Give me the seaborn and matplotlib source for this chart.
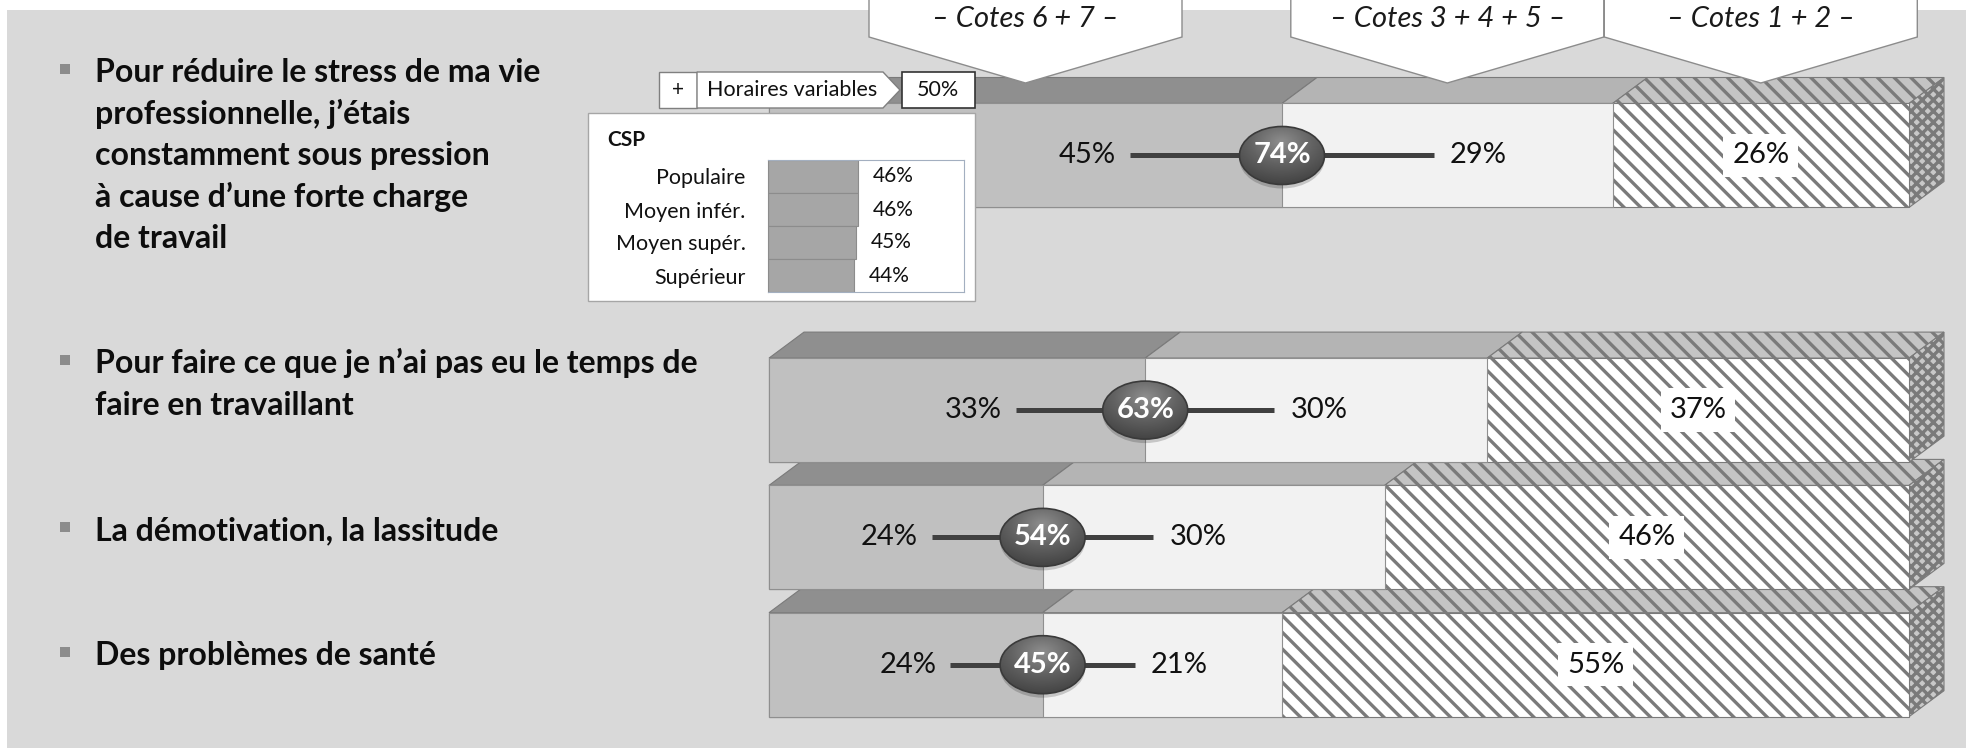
import numpy as np
import pandas as pd
import matplotlib
matplotlib.use("Agg")
import matplotlib.pyplot as plt
from matplotlib.patches import Rectangle, Polygon, Ellipse
from matplotlib.colors import LinearSegmentedColormap
import seaborn as sns

# ---------------------------------------------------------------- data
items = [
    "Pour réduire le stress de ma vie\nprofessionnelle, j’étais\nconstamment sous pression\nà cause d’une forte charge\nde travail",
    "Pour faire ce que je n’ai pas eu le temps de\nfaire en travaillant",
    "La démotivation, la lassitude",
    "Des problèmes de santé",
]
cotes_67 = [45, 33, 24, 24]     # high scores (6 + 7)
cotes_345 = [29, 30, 30, 21]    # middle scores (3 + 4 + 5)
cotes_12 = [26, 37, 46, 55]     # low scores (1 + 2)
group_labels = ["– Cotes 6 + 7 –", "– Cotes 3 + 4 + 5 –", "– Cotes 1 + 2 –"]

filter_label = "Horaires variables"
filter_value = 50
csp_title = "CSP"
csp_labels = ["Populaire", "Moyen infér.", "Moyen supér.", "Supérieur"]
csp_values = [46, 46, 45, 44]

# ---------------------------------------------------------------- layout
W, H, DPI = 1966, 748, 100
row_pos = [0, 2, 3, 4]          # vertical slots of the four bars
X0_PX, PX_X = 769, 11.4         # bar origin and pixels per percent
Y0_PX, PX_Y = 155.5, 127.3      # first row centre and pixels per slot


def ux(px):
    return px / PX_X


def uy(px):
    return px / PX_Y


def yd(py):
    return (py - Y0_PX) / PX_Y


BAR_H = uy(104)
DX, DY = ux(35), uy(26)
HATCH = "\\\\"
zbase = [40, 32, 24, 16]

sns.set_style("white")
plt.rcParams["font.family"] = ["Lato", "DejaVu Sans"]
plt.rcParams["hatch.linewidth"] = 2.4

fig = plt.figure(figsize=(W / DPI, H / DPI), dpi=DPI, facecolor="white")
fig.add_artist(Rectangle((7 / W, 0), 1, (H - 10) / H, transform=fig.transFigure,
                         fc="#d9d9d9", ec="none", zorder=-5))

ax = fig.add_axes([0, 0, 1, 1])
ax.set_facecolor("none")

df = pd.DataFrame({"pos": row_pos, "c67": cotes_67, "c345": cotes_345, "c12": cotes_12})
df["cum2"] = df["c67"] + df["c345"]
df["cum3"] = df["cum2"] + df["c12"]

# stacked front faces: longest cumulative layer first
layers = [
    ("cum3", "#ffffff", HATCH, "#7a7a7a"),
    ("cum2", "#f2f2f2", None, "#8f8f8f"),
    ("c67", "#c0c0c0", None, "#8f8f8f"),
]
pos_arr = np.array(row_pos, dtype=float)
for k, (col, fc, hatch, ec) in enumerate(layers):
    n_before = len(ax.patches)
    sns.barplot(data=df, x=col, y="pos", orient="h", native_scale=True,
                width=BAR_H, color=fc, saturation=1, errorbar=None, ax=ax)
    for p in ax.patches[n_before:]:
        yc = p.get_y() + p.get_height() / 2
        r = int(np.argmin(np.abs(pos_arr - yc)))
        p.set_facecolor(fc)
        p.set_edgecolor(ec)
        p.set_linewidth(0.8)
        if hatch:
            p.set_hatch(hatch)
        p.set_zorder(zbase[r] + 2 + k)

# 3D top and side faces
top_fc = ["#8f8f8f", "#b4b4b4", "#c4c4c4"]
top_hatch = [None, None, HATCH]
for r, pos in enumerate(row_pos):
    yt, yb = pos - BAR_H / 2, pos + BAR_H / 2
    total = df["cum3"][r]
    bounds = [0, df["c67"][r], df["cum2"][r], total]
    for s in range(3):
        x0, x1 = bounds[s], bounds[s + 1]
        ax.add_patch(Polygon([(x0, yt), (x1, yt), (x1 + DX, yt - DY), (x0 + DX, yt - DY)],
                             closed=True, fc=top_fc[s], ec="#7a7a7a", lw=0.8,
                             hatch=top_hatch[s], zorder=zbase[r] + 1))
    ax.add_patch(Polygon([(total, yt), (total + DX, yt - DY), (total + DX, yb - DY), (total, yb)],
                         closed=True, fc="#c8c8c8", ec="#7a7a7a", lw=0.8, hatch="xxx",
                         zorder=zbase[r] + 1))

# dumbbell lines, bubbles and value labels
bub_cmap = LinearSegmentedColormap.from_list("bub", ["#8e8e8e", "#626262", "#424242"])
BW, BH = ux(85), uy(58)
for r, pos in enumerate(row_pos):
    xc = cotes_67[r]
    tot = cotes_67[r] + cotes_345[r]
    arm = 0.18 * tot
    ax.plot([xc - arm, xc + arm], [pos, pos], color="#404040", lw=3.6,
            solid_capstyle="butt", zorder=100)
    ax.text(xc - arm - ux(14), pos, f"{cotes_67[r]}%", ha="right", va="center",
            fontsize=21, color="#111111", zorder=101)
    ax.text(xc + arm + ux(16), pos, f"{cotes_345[r]}%", ha="left", va="center",
            fontsize=21, color="#111111", zorder=101)

    ax.add_patch(Ellipse((xc, pos + uy(4)), BW, BH, fc="#000000", alpha=0.18,
                         ec="none", zorder=101))
    ell = Ellipse((xc, pos), BW, BH, fc="#5a5a5a", ec="none", zorder=102)
    ax.add_patch(ell)
    gy, gx = np.mgrid[-1:1:60j, -1:1:90j]
    rr = np.sqrt(gx ** 2 + (gy + 0.45) ** 2)
    img = ax.imshow(rr, extent=(xc - BW / 2, xc + BW / 2, pos + BH / 2, pos - BH / 2),
                    origin="upper", cmap=bub_cmap, vmin=0, vmax=1.5, aspect="auto",
                    interpolation="bilinear", zorder=103)
    img.set_clip_path(ell)
    ax.add_patch(Ellipse((xc, pos), BW, BH, fc="none", ec="#3a3a3a", lw=1.2, zorder=104))
    ax.text(xc, pos, f"{tot}%", ha="center", va="center", fontsize=21,
            fontweight="bold", color="white", zorder=106)

    ax.text(100 - cotes_12[r] / 2, pos, f"{cotes_12[r]}%", ha="center", va="center",
            fontsize=21, color="#111111", zorder=101,
            bbox=dict(boxstyle="square,pad=0.3", fc="white", ec="none"))

# group headers pointing at the segments of the first bar
centers = [cotes_67[0] / 2, cotes_67[0] + cotes_345[0] / 2, 100 - cotes_12[0] / 2]
half = ux(313) / 2
for c, lab in zip(centers, group_labels):
    verts = [(c - half, yd(-6)), (c + half, yd(-6)), (c + half, yd(37)),
             (c, yd(83)), (c - half, yd(37))]
    ax.add_patch(Polygon(verts, closed=True, fc="white", ec="#8c8c8c", lw=1.0, zorder=60))
    ax.text(c, yd(19), lab, ha="center", va="center", fontsize=21, style="italic",
            color="#1a1a1a", zorder=61)

ax.set_xlim(-X0_PX / PX_X, (W - X0_PX) / PX_X)
ax.set_ylim(yd(H), yd(0))
ax.set_axis_off()

# ---------------------------------------------------------------- overlay (pixel space)
ov = fig.add_axes([0, 0, 1, 1], zorder=5)
ov.set_xlim(0, W)
ov.set_ylim(H, 0)
ov.set_facecolor("none")
ov.set_axis_off()

baselines = [82, 373, 540, 665]
for text, base in zip(items, baselines):
    ov.add_patch(Rectangle((60, base - 18), 10, 10, fc="#8c8c8c", ec="none"))
    for i, line in enumerate(text.split("\n")):
        ov.text(95, base + i * 41.5, line, ha="left", va="baseline", fontsize=23,
                fontweight="bold", color="#0d0d0d")

# filter tag
ov.add_patch(Rectangle((659, 72), 38, 36, fc="white", ec="#7f7f7f", lw=1))
ov.text(678, 90, "+", ha="center", va="center", fontsize=15, color="#111111")
ov.add_patch(Polygon([(697, 72), (883, 72), (900, 90), (883, 108), (697, 108)],
                     closed=True, fc="white", ec="#7f7f7f", lw=1))
ov.text(792, 90, filter_label, ha="center", va="center", fontsize=15.5, color="#111111")
ov.add_patch(Rectangle((902, 72), 73, 36, fc="white", ec="#333333", lw=1.2))
ov.text(938, 90, f"{filter_value}%", ha="center", va="center", fontsize=15.5, color="#111111")

# CSP panel
ov.add_patch(Rectangle((588, 113), 387, 188, fc="white", ec="#a6a6a6", lw=1))
ov.text(607, 140, csp_title, ha="left", va="center", fontsize=15, fontweight="bold",
        color="#111111")

axm = fig.add_axes([768 / W, 1 - 292 / H, 196 / W, 132 / H], zorder=6)
sns.barplot(x=csp_values, y=csp_labels, orient="h", color="#a6a6a6", saturation=1,
            width=1.0, errorbar=None, ax=axm)
for p in axm.patches:
    p.set_edgecolor("#8c8c8c")
    p.set_linewidth(0.8)
for i, v in enumerate(csp_values):
    axm.text(v + 7.5, i, f"{v}%", ha="left", va="center", fontsize=15, color="#111111")
axm.set_xlim(0, 100)
axm.set_ylim(len(csp_values) - 0.5, -0.5)
axm.set_facecolor("white")
axm.set_xlabel("")
axm.set_ylabel("")
axm.set_xticks([])
axm.tick_params(axis="y", length=0, pad=16, labelsize=15.5, labelcolor="#111111")
for name, sp in axm.spines.items():
    sp.set_visible(True)
    sp.set_linewidth(0.8)
    sp.set_color("#8c8c8c" if name == "left" else "#a3afc0")

fig.savefig("out.png", dpi=DPI, facecolor="white")
